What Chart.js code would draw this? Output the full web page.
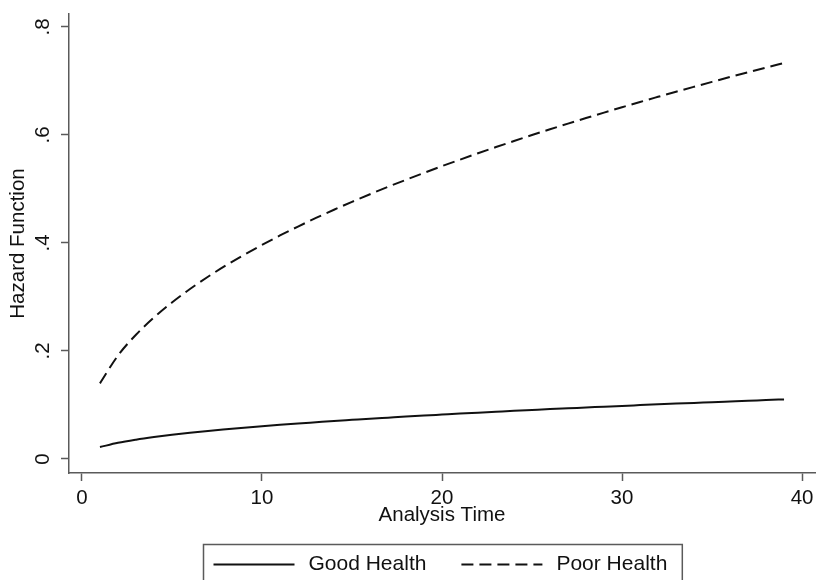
<!DOCTYPE html>
<html>
<head>
<meta charset="utf-8">
<script src="https://cdn.jsdelivr.net/npm/chart.js@4.4.1/dist/chart.umd.min.js"></script>
<style>
html,body{margin:0;padding:0;background:#fff;}
canvas{display:block;}
</style>
</head>
<body>
<canvas id="c" width="817" height="580"></canvas>
<script>
// ---- data ----
const analysisTime = [1,2,3,4,5,6,7,8,9,10,11,12,13,14,15,16,17,18,19,20,21,22,23,24,25,26,27,28,29,30,31,32,33,34,35,36,37,38,39];
const goodHealth = [0.0220,0.0299,0.0357,0.0405,0.0447,0.0484,0.0518,0.0549,0.0579,0.0606,0.0632,0.0657,0.0680,0.0703,0.0724,0.0745,0.0765,0.0785,0.0804,0.0822,0.0840,0.0857,0.0874,0.0891,0.0907,0.0923,0.0938,0.0953,0.0968,0.0983,0.0997,0.1011,0.1025,0.1038,0.1052,0.1065,0.1078,0.1090,0.1103];
const poorHealth = [0.1400,0.1915,0.2300,0.2620,0.2898,0.3147,0.3374,0.3584,0.3780,0.3964,0.4139,0.4304,0.4463,0.4615,0.4761,0.4902,0.5039,0.5170,0.5298,0.5423,0.5543,0.5661,0.5776,0.5888,0.5998,0.6105,0.6210,0.6313,0.6414,0.6513,0.6611,0.6706,0.6800,0.6892,0.6983,0.7073,0.7161,0.7248,0.7333];
const seriesLabels = ["Good Health", "Poor Health"];
const xTickValues = [0, 10, 20, 30, 40];
const yTickValues = [0, 0.2, 0.4, 0.6, 0.8];
const yTickLabels = ["0", ".2", ".4", ".6", ".8"];
const xTitle = "Analysis Time";
const yTitle = "Hazard Function";

// ---- styling ----
const FONT = '"Liberation Sans", Arial, Helvetica, sans-serif';
const AXIS_COLOR = '#5a5a5a';
const INK = '#111111';

const pts = (ys) => analysisTime.map((t, i) => ({x: t, y: ys[i]}));

const boxLegend = {
  id: 'boxLegend',
  afterDraw(chart) {
    const ctx = chart.ctx;
    const ca = chart.chartArea;
    const xs = chart.scales.x;
    ctx.save();
    ctx.font = '21px ' + FONT;
    const sample = 81, gapText = 14, gapItem = 35, padL = 10, padR = 15;
    const items = chart.data.datasets.map(ds => ({ds, w: ctx.measureText(ds.label).width}));
    let total = padL + padR;
    items.forEach((it, i) => { total += sample + gapText + it.w + (i ? gapItem : 0); });
    const cx = (ca.left + ca.right) / 2;
    const left = Math.round(cx - total / 2) + 0.5;
    const top = xs.bottom + 11.5;
    const h = 42;
    ctx.strokeStyle = AXIS_COLOR;
    ctx.lineWidth = 1.5;
    ctx.strokeRect(left, top, total, h);
    let x = left + padL;
    const y = top + 20;
    items.forEach((it, i) => {
      if (i) x += gapItem;
      ctx.beginPath();
      ctx.setLineDash(it.ds.borderDash || []);
      ctx.strokeStyle = it.ds.borderColor;
      ctx.lineWidth = it.ds.borderWidth;
      ctx.moveTo(x, y);
      ctx.lineTo(x + sample, y);
      ctx.stroke();
      ctx.setLineDash([]);
      x += sample + gapText;
      ctx.fillStyle = INK;
      ctx.textBaseline = 'middle';
      ctx.textAlign = 'left';
      ctx.fillText(it.ds.label, x, y);
      x += it.w;
    });
    ctx.restore();
  }
};

new Chart(document.getElementById('c'), {
  type: 'line',
  data: {
    datasets: [
      {
        label: seriesLabels[0],
        data: pts(goodHealth),
        borderColor: INK,
        borderWidth: 2,
        pointRadius: 0,
        fill: false,
        cubicInterpolationMode: 'monotone'
      },
      {
        label: seriesLabels[1],
        data: pts(poorHealth),
        borderColor: INK,
        borderWidth: 2,
        borderDash: [12, 6],
        pointRadius: 0,
        fill: false,
        cubicInterpolationMode: 'monotone'
      }
    ]
  },
  options: {
    responsive: false,
    devicePixelRatio: 1,
    animation: false,
    layout: { padding: { top: 14, right: 2, bottom: 47, left: 0 } },
    plugins: {
      legend: { display: false },
      tooltip: { enabled: false }
    },
    scales: {
      x: {
        type: 'linear',
        min: -0.72,
        max: 40.72,
        afterBuildTicks: (s) => { s.ticks = xTickValues.map(v => ({value: v})); },
        afterFit: (s) => { s.height = 60; s.paddingLeft = 0; s.paddingRight = 0; },
        ticks: {
          color: INK,
          font: { family: FONT, size: 20.5 },
          padding: 5,
          maxRotation: 0,
          autoSkip: false
        },
        grid: {
          drawOnChartArea: false,
          drawTicks: true,
          tickLength: 8,
          tickColor: AXIS_COLOR,
          tickWidth: 1.5
        },
        border: { display: true, color: AXIS_COLOR, width: 1.5 },
        title: {
          display: true,
          text: xTitle,
          color: INK,
          font: { family: FONT, size: 20.5 },
          padding: { top: 0, bottom: 5.7 }
        }
      },
      y: {
        type: 'linear',
        min: -0.026,
        max: 0.824,
        afterBuildTicks: (s) => { s.ticks = yTickValues.map(v => ({value: v})); },
        afterFit: (s) => { s.width = 69; s.paddingTop = 0; s.paddingBottom = 0; },
        ticks: {
          color: INK,
          font: { family: FONT, size: 20.5 },
          padding: 9.4,
          minRotation: 90,
          maxRotation: 90,
          crossAlign: 'center',
          autoSkip: false,
          callback: (v) => { const i = yTickValues.findIndex(t => Math.abs(t - v) < 1e-9); return i >= 0 ? yTickLabels[i] : ''; }
        },
        grid: {
          drawOnChartArea: false,
          drawTicks: true,
          tickLength: 8,
          tickColor: AXIS_COLOR,
          tickWidth: 1.5
        },
        border: { display: true, color: AXIS_COLOR, width: 1.5 },
        title: {
          display: true,
          text: yTitle,
          color: INK,
          font: { family: FONT, size: 20.5 },
          padding: { top: 5.7, bottom: 0 }
        }
      }
    }
  },
  plugins: [boxLegend]
});
</script>
</body>
</html>
